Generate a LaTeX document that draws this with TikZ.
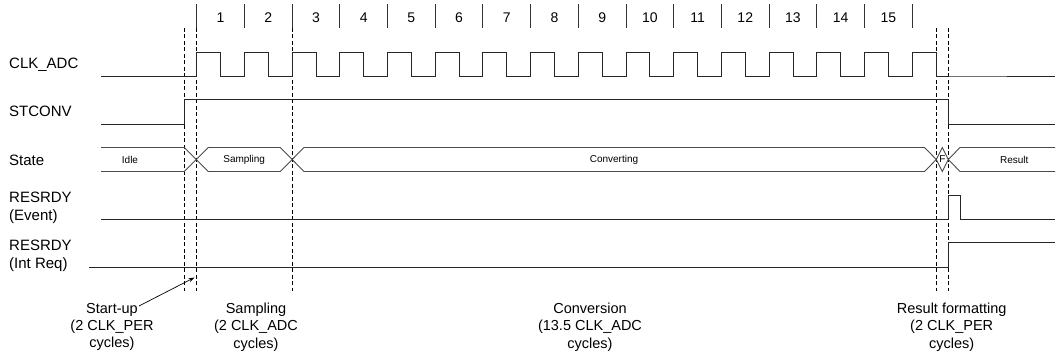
\documentclass[tikz,border=0pt]{standalone}
\usepackage{fontspec}
\setmainfont{Liberation Sans}
\usetikzlibrary{arrows.meta}
\begin{document}
\begin{tikzpicture}[x=1pt,y=-1pt,
  sig/.style={line width=0.9pt,black!85},
  bus/.style={line width=0.9pt,black!70},
  tick/.style={line width=0.9pt,black!80},
  guide/.style={line width=0.8pt,black,dash pattern=on 4pt off 2.5pt},
  lbl/.style={anchor=west,inner sep=0pt,align=left,font=\fontsize{15}{18}\selectfont},
  num/.style={inner sep=0pt,font=\fontsize{14}{16}\selectfont},
  st/.style={inner sep=0pt,font=\fontsize{10}{12}\selectfont},
  phase/.style={inner sep=0pt,align=center,font=\fontsize{14.5}{17.3}\selectfont},
  arr/.style={line width=0.7pt,-{Stealth[length=6pt,width=4pt]}}]
\useasboundingbox (0,0) rectangle (1058,355);
\def\xo{196.7}
\def\P{47.7}
% top ticks and numbers
\foreach \k in {0,...,15}{
  \draw[tick] ({\xo+\k*\P},4) -- ({\xo+\k*\P},28);
}
\foreach \k in {1,...,15}{
  \node[num] (n\k) at ({\xo+(\k-0.5)*\P},17.5) {\k};
}
% signal labels
\node[lbl] (lclk) at (9,65) {CLK\_ADC};
\node[lbl] (lst) at (9,111.5) {STCONV};
\node[lbl] (lstate) at (9,160) {State};
\node[lbl] (lev) at (9,207.5) {RESRDY\\(Event)};
\node[lbl] (lir) at (9,256) {RESRDY\\(Int Req)};
% dashed guides
\foreach \x in {184.3,196.7,292.1,936.3,948.3}{
  \draw[guide] (\x,28) -- (\x,291);
}
% CLK_ADC
\draw[sig] (101,76) -- (\xo,76)
  \foreach \n in {0,...,15}{ -- ++(0,-24) -- ++(23.85,0) -- ++(0,24) -- ++(23.85,0) }
  -- (1055,76);
% STCONV
\draw[sig] (101,124) -- (184.3,124) -- (184.3,99.3) -- (948.3,99.3) -- (948.3,124) -- (1055,124);
% State bus
\draw[bus] (101,147.5) -- (184.3,147.5) -- (208.3,171.5) -- (280.3,171.5) -- (304,147.5) -- (924.5,147.5) -- (936.3,159.5);
\draw[bus] (101,171.5) -- (184.3,171.5) -- (208.3,147.5) -- (280.3,147.5) -- (304,171.5) -- (924.5,171.5) -- (936.3,159.5);
\draw[bus] (936.3,159.5) -- (942.3,147.5) -- (948.3,159.5) -- (942.3,171.5) -- cycle;
\draw[bus] (948.3,159.5) -- (960,147.5) -- (1055,147.5);
\draw[bus] (948.3,159.5) -- (960,171.5) -- (1055,171.5);
\node[st] (sidle) at (130,159.5) {Idle};
\node[st] (ssamp) at (244.2,159.5) {Sampling};
\node[st] (sconv) at (614,159.5) {Converting};
\node[st] (sf) at (942.3,159.5) {F};
\node[st] (sres) at (1014.3,159.5) {Result};
% RESRDY event
\draw[sig] (101,219.3) -- (948.3,219.3) -- (948.3,195.7) -- (960,195.7) -- (960,219.3) -- (1055,219.3);
% RESRDY int req
\draw[sig] (89.3,267.3) -- (948.3,267.3) -- (948.3,242.7) -- (1055,242.7);
% phase labels
\node[phase] (pstart) at (112,327) {Start-up\\(2 CLK\_PER\\cycles)};
\node[phase] (psamp) at (256,327) {Sampling\\(2 CLK\_ADC\\cycles)};
\node[phase] (pconv) at (590,327) {Conversion\\(13.5 CLK\_ADC\\cycles)};
\node[phase] (pres) at (951.7,327) {Result formatting\\(2 CLK\_PER\\cycles)};
\coordinate (sufrom) at (139,306);
\coordinate (suto) at (194.5,277.5);
\draw[arr] (sufrom) -- (suto);
\end{tikzpicture}
\end{document}
